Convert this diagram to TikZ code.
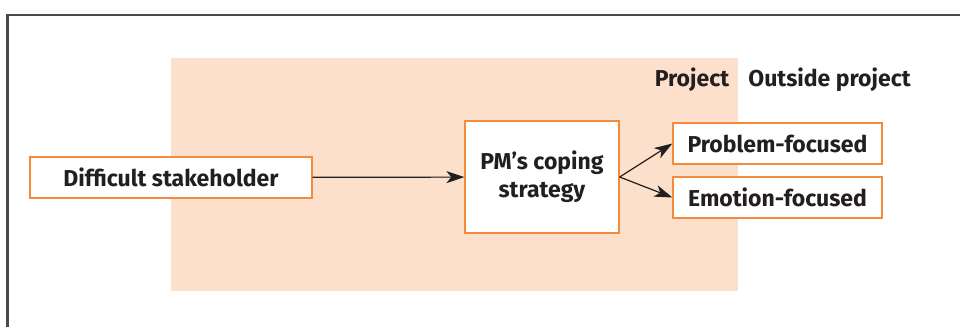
\documentclass[tikz,border=0pt]{standalone}
\usepackage{fontspec}
\setmainfont{Fira Sans}
\usepackage{xcolor}
\usetikzlibrary{arrows.meta}

\definecolor{boxorange}{HTML}{F28B3E}
\definecolor{projfill}{HTML}{FCE0CB}
\definecolor{inkdark}{HTML}{231F20}
\definecolor{framegray}{HTML}{4A4A4A}

\begin{document}
\begin{tikzpicture}[x=1pt, y=1pt,
    obox/.style={draw=boxorange, line width=1.3pt, fill=white, inner sep=0pt,
                 font=\fontsize{23}{28}\selectfont\bfseries, text=inkdark, align=center},
    lbl/.style={font=\fontsize{23}{28}\selectfont\bfseries, text=inkdark, inner sep=0pt},
    arr/.style={-{Stealth[length=18pt, width=12pt, inset=5pt]}, draw=inkdark, fill=inkdark, line width=1.2pt}]
    \useasboundingbox (0,0) rectangle (960,327);
    \draw[framegray, line width=2.5pt] (7.5,0) -- (7.5,312) -- (960,312);
    \fill[projfill] (171,36) rectangle (738,269);
    \node[lbl] (proj) at (692,247) {Project};
    \node[lbl] (outside) at (829.5,247) {Outside project};
    \node[obox, minimum width=282pt, minimum height=41pt] (stake) at (171,149.5) {Difficult stakeholder};
    \node[obox, minimum width=154pt, minimum height=112pt] (coping) at (542,150) {PM's coping\\strategy};
    \node[obox, minimum width=209pt, minimum height=41pt] (problem) at (777.5,183.5) {Problem-focused};
    \node[obox, minimum width=209pt, minimum height=41pt] (emotion) at (777.5,129.5) {Emotion-focused};
    \draw[arr] (stake) -- (coping);
    \draw[arr] (coping.east) -- (problem.west);
    \draw[arr] (coping.east) -- (emotion.west);
\end{tikzpicture}
\end{document}
